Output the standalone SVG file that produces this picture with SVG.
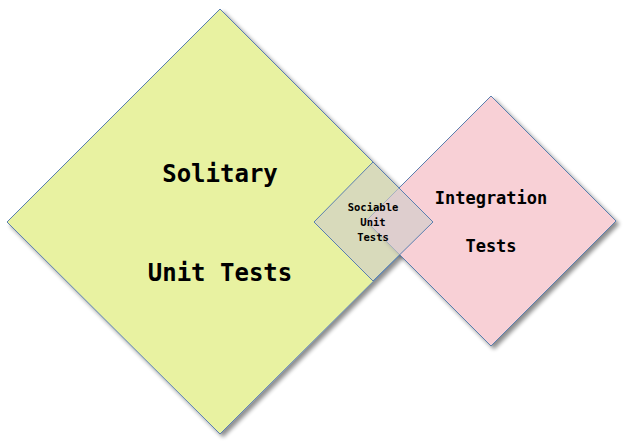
<svg xmlns="http://www.w3.org/2000/svg" width="625" height="443" viewBox="0 0 625 443">
<defs>
<filter id="sh" x="-10%" y="-10%" width="130%" height="130%">
<feGaussianBlur in="SourceAlpha" stdDeviation="2"/>
<feOffset dx="3" dy="3" result="b"/>
<feComponentTransfer><feFuncA type="linear" slope="0.45"/></feComponentTransfer>
<feMerge><feMergeNode/><feMergeNode in="SourceGraphic"/></feMerge>
</filter>
<style>
.d{stroke:#5a7fb0;stroke-width:1;filter:url(#sh)}
.s{stroke:#5a7fb0;stroke-width:1}
.t{font-family:"DejaVu Sans Mono","Liberation Mono",monospace;font-weight:bold;fill:#000;text-anchor:middle}
</style>
</defs>
<rect width="625" height="443" fill="#fff"/>
<g id="solitary">
<polygon class="d" points="220,9 433,222 220,434 7,222" fill="#e8f2a1"/>
<text class="t" x="220" y="182" font-size="24">Solitary</text>
<text class="t" x="220" y="281" font-size="24">Unit Tests</text>
</g>
<g id="integration">
<polygon class="d" points="491,96 616,221 491,346 366,221" fill="#f8d0d6"/>
<text class="t" x="491" y="204" font-size="17">Integration</text>
<text class="t" x="491" y="252" font-size="17">Tests</text>
</g>
<g id="sociable">
<polygon class="s" points="373,162 433,222 373,281 314,222" fill="#cfcdca" fill-opacity="0.65"/>
<text class="t" x="373" y="211" font-size="10.5">Sociable</text>
<text class="t" x="373" y="226" font-size="10.5">Unit</text>
<text class="t" x="373" y="241" font-size="10.5">Tests</text>
</g>
<g id="connectors"></g>
</svg>
